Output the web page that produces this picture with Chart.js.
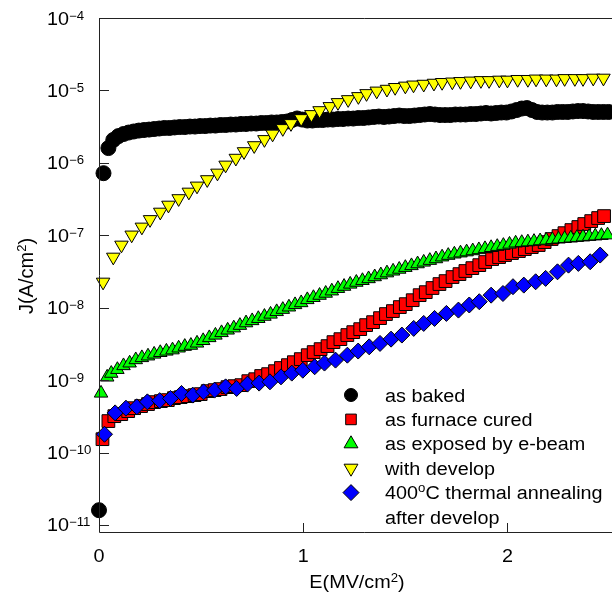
<!DOCTYPE html>
<html>
<head>
<meta charset="utf-8">
<script src="https://cdn.jsdelivr.net/npm/chart.js@4.4.1/dist/chart.umd.min.js"></script>
<style>
  html, body { margin: 0; padding: 0; overflow: hidden; background: #fff; }
  canvas { display: block; }
</style>
</head>
<body>
<canvas id="jeChart" width="640" height="599"></canvas>
<script>
// J-E leakage curves of the film after each process step

const seriesLabels = ['as baked', 'as furnace cured', 'as exposed by e-beam', 'with develop', '400°C thermal annealing\nafter develop'];

// as baked
const bakedE = [
  0, 0.022, 0.046, 0.07, 0.095, 0.12, 0.145, 0.17, 0.195, 0.22,
  0.245, 0.27, 0.295, 0.32, 0.345, 0.37, 0.395, 0.42, 0.445, 0.47,
  0.495, 0.52, 0.545, 0.57, 0.595, 0.62, 0.645, 0.67, 0.695, 0.72,
  0.745, 0.77, 0.795, 0.82, 0.845, 0.87, 0.895, 0.92, 0.945, 0.97,
  0.995, 1.02, 1.045, 1.07, 1.095, 1.12, 1.145, 1.17, 1.195, 1.22,
  1.245, 1.27, 1.295, 1.32, 1.345, 1.37, 1.395, 1.42, 1.445, 1.47,
  1.495, 1.52, 1.545, 1.57, 1.595, 1.62, 1.645, 1.67, 1.695, 1.72,
  1.745, 1.77, 1.795, 1.82, 1.845, 1.87, 1.895, 1.92, 1.945, 1.97,
  1.995, 2.02, 2.045, 2.07, 2.095, 2.12, 2.145, 2.17, 2.195, 2.22,
  2.245, 2.27, 2.295, 2.32, 2.345, 2.37, 2.395, 2.42, 2.445, 2.47,
  2.495
];
const bakedJ = [
  1.6e-11, 7.2e-7, 1.6e-6, 2.07e-6, 2.34e-6, 2.50e-6, 2.62e-6, 2.71e-6, 2.79e-6, 2.84e-6,
  2.88e-6, 2.93e-6, 2.98e-6, 3.03e-6, 3.03e-6, 3.08e-6, 3.12e-6, 3.12e-6, 3.17e-6, 3.17e-6,
  3.22e-6, 3.22e-6, 3.27e-6, 3.27e-6, 3.33e-6, 3.33e-6, 3.38e-6, 3.38e-6, 3.44e-6, 3.44e-6,
  3.49e-6, 3.49e-6, 3.55e-6, 3.55e-6, 3.61e-6, 3.61e-6, 3.66e-6, 3.72e-6, 3.90e-6, 4.10e-6,
  3.96e-6, 3.84e-6, 3.84e-6, 3.90e-6, 3.90e-6, 3.96e-6, 3.96e-6, 4.03e-6, 4.03e-6, 4.09e-6,
  4.09e-6, 4.16e-6, 4.16e-6, 4.23e-6, 4.30e-6, 4.36e-6, 4.30e-6, 4.36e-6, 4.43e-6, 4.50e-6,
  4.43e-6, 4.43e-6, 4.50e-6, 4.57e-6, 4.65e-6, 4.72e-6, 4.65e-6, 4.57e-6, 4.57e-6, 4.57e-6,
  4.65e-6, 4.65e-6, 4.65e-6, 4.72e-6, 4.72e-6, 4.80e-6, 4.88e-6, 4.80e-6, 4.88e-6, 4.95e-6,
  4.95e-6, 5.12e-6, 5.36e-6, 5.62e-6, 5.71e-6, 5.36e-6, 5.04e-6, 4.95e-6, 4.95e-6, 4.95e-6,
  5.04e-6, 5.04e-6, 5.04e-6, 5.12e-6, 5.19e-6, 5.19e-6, 5.12e-6, 5.04e-6, 5.04e-6, 5.04e-6,
  5.04e-6
];

// as furnace cured
const curedE = [
  0.017, 0.046, 0.075, 0.109, 0.143, 0.172, 0.206, 0.240, 0.269, 0.303,
  0.337, 0.367, 0.400, 0.434, 0.468, 0.498, 0.532, 0.566, 0.595, 0.629,
  0.663, 0.697, 0.731, 0.765, 0.794, 0.828, 0.862, 0.891, 0.925, 0.954,
  0.988, 1.022, 1.051, 1.085, 1.119, 1.148, 1.182, 1.216, 1.245, 1.279,
  1.308, 1.342, 1.376, 1.405, 1.439, 1.473, 1.502, 1.536, 1.570, 1.600,
  1.633, 1.667, 1.697, 1.731, 1.765, 1.794, 1.828, 1.862, 1.891, 1.925,
  1.959, 1.988, 2.022, 2.056, 2.085, 2.119, 2.153, 2.182, 2.216, 2.250,
  2.279, 2.313, 2.347, 2.376, 2.410, 2.444, 2.473
];
const curedJ = [
  1.53e-10, 2.72e-10, 3.18e-10, 3.39e-10, 3.73e-10, 4.10e-10, 4.38e-10, 4.67e-10, 4.97e-10, 5.13e-10,
  5.30e-10, 5.64e-10, 5.82e-10, 6.01e-10, 6.21e-10, 6.41e-10, 7.05e-10, 7.28e-10, 7.52e-10, 8.00e-10,
  8.26e-10, 8.53e-10, 9.68e-10, 1.03e-9, 1.14e-9, 1.21e-9, 1.33e-9, 1.47e-9, 1.61e-9, 1.77e-9,
  1.95e-9, 2.21e-9, 2.44e-9, 2.68e-9, 2.95e-9, 3.35e-9, 3.68e-9, 4.19e-9, 4.60e-9, 5.06e-9,
  5.75e-9, 6.32e-9, 7.18e-9, 8.17e-9, 8.98e-9, 1.02e-8, 1.12e-8, 1.27e-8, 1.49e-8, 1.64e-8,
  1.87e-8, 2.12e-8, 2.33e-8, 2.65e-8, 2.91e-8, 3.21e-8, 3.52e-8, 3.87e-8, 4.27e-8, 4.69e-8,
  5.00e-8, 5.33e-8, 5.68e-8, 6.05e-8, 6.44e-8, 6.87e-8, 7.33e-8, 8.05e-8, 8.87e-8, 9.75e-8,
  1.07e-7, 1.18e-7, 1.30e-7, 1.43e-7, 1.57e-7, 1.73e-7, 1.84e-7
];

// as exposed by e-beam
const ebeamE = [
  0.01, 0.04, 0.06, 0.09, 0.12, 0.15, 0.18, 0.21, 0.24, 0.27,
  0.30, 0.33, 0.36, 0.39, 0.42, 0.45, 0.48, 0.51, 0.54, 0.57,
  0.60, 0.63, 0.66, 0.69, 0.72, 0.75, 0.78, 0.81, 0.84, 0.87,
  0.90, 0.93, 0.96, 0.99, 1.02, 1.05, 1.08, 1.11, 1.14, 1.17,
  1.20, 1.23, 1.26, 1.29, 1.32, 1.35, 1.38, 1.41, 1.44, 1.47,
  1.50, 1.53, 1.56, 1.59, 1.62, 1.65, 1.68, 1.71, 1.74, 1.77,
  1.80, 1.83, 1.86, 1.89, 1.92, 1.95, 1.98, 2.01, 2.04, 2.07,
  2.10, 2.13, 2.16, 2.19, 2.22, 2.25, 2.28, 2.31, 2.34, 2.37,
  2.40, 2.43, 2.46, 2.49
];
const ebeamJ = [
  6.6e-10, 1.10e-9, 1.24e-9, 1.40e-9, 1.58e-9, 1.72e-9, 1.91e-9, 2.04e-9, 2.15e-9, 2.28e-9,
  2.40e-9, 2.51e-9, 2.61e-9, 2.77e-9, 2.92e-9, 3.02e-9, 3.24e-9, 3.51e-9, 3.85e-9, 4.17e-9,
  4.52e-9, 4.90e-9, 5.25e-9, 5.69e-9, 6.17e-9, 6.61e-9, 7.08e-9, 7.59e-9, 8.13e-9, 8.81e-9,
  9.46e-9, 1.02e-8, 1.10e-8, 1.17e-8, 1.29e-8, 1.38e-8, 1.48e-8, 1.58e-8, 1.70e-8, 1.84e-8,
  1.97e-8, 2.11e-8, 2.24e-8, 2.37e-8, 2.51e-8, 2.67e-8, 2.84e-8, 3.02e-8, 3.20e-8, 3.39e-8,
  3.59e-8, 3.80e-8, 4.03e-8, 4.25e-8, 4.49e-8, 4.73e-8, 5.01e-8, 5.27e-8, 5.50e-8, 5.69e-8,
  5.89e-8, 6.10e-8, 6.31e-8, 6.53e-8, 6.76e-8, 7.00e-8, 7.24e-8, 7.52e-8, 7.80e-8, 7.94e-8,
  8.09e-8, 8.22e-8, 8.38e-8, 8.53e-8, 8.69e-8, 8.85e-8, 9.00e-8, 9.14e-8, 9.31e-8, 9.46e-8,
  9.62e-8, 9.77e-8, 9.93e-8, 1.01e-7
];

// with develop
const developE = [
  0.02, 0.07, 0.11, 0.16, 0.21, 0.25, 0.30, 0.34, 0.39, 0.44,
  0.48, 0.53, 0.58, 0.62, 0.67, 0.71, 0.76, 0.81, 0.85, 0.90,
  0.94, 0.99, 1.04, 1.08, 1.13, 1.17, 1.22, 1.27, 1.31, 1.36,
  1.41, 1.45, 1.50, 1.54, 1.59, 1.64, 1.68, 1.73, 1.77, 1.82,
  1.87, 1.91, 1.96, 2.00, 2.05, 2.10, 2.14, 2.19, 2.24, 2.28,
  2.33, 2.37, 2.42, 2.47
];
const developJ = [
  2.26e-8, 5.0e-8, 7.33e-8, 1.01e-7, 1.30e-7, 1.65e-7, 2.09e-7, 2.61e-7, 3.21e-7, 3.95e-7,
  4.79e-7, 5.87e-7, 7.23e-7, 9.33e-7, 1.16e-6, 1.43e-6, 1.73e-6, 2.10e-6, 2.50e-6, 2.98e-6,
  3.49e-6, 4.09e-6, 4.65e-6, 5.27e-6, 6.00e-6, 6.81e-6, 7.48e-6, 8.24e-6, 9.06e-6, 9.82e-6,
  1.04e-5, 1.10e-5, 1.15e-5, 1.19e-5, 1.22e-5, 1.26e-5, 1.29e-5, 1.31e-5, 1.33e-5, 1.35e-5,
  1.37e-5, 1.37e-5, 1.39e-5, 1.39e-5, 1.42e-5, 1.42e-5, 1.44e-5, 1.44e-5, 1.44e-5, 1.46e-5,
  1.46e-5, 1.46e-5, 1.48e-5, 1.48e-5
];

// 400°C thermal annealing after develop
const annealE = [
  0.027, 0.079, 0.132, 0.185, 0.237, 0.297, 0.350, 0.404, 0.459, 0.512,
  0.566, 0.620, 0.674, 0.727, 0.784, 0.837, 0.891, 0.944, 0.998, 1.056,
  1.104, 1.158, 1.216, 1.269, 1.323, 1.376, 1.430, 1.483, 1.541, 1.590,
  1.643, 1.701, 1.760, 1.813, 1.862, 1.920, 1.978, 2.027, 2.080, 2.138,
  2.187, 2.245, 2.299, 2.347, 2.405, 2.454
];
const annealJ = [
  1.79e-10, 3.53e-10, 4.10e-10, 4.28e-10, 5.01e-10, 5.21e-10, 5.58e-10, 6.55e-10, 6.21e-10, 6.89e-10,
  7.28e-10, 8.07e-10, 7.67e-10, 8.81e-10, 9.10e-10, 9.48e-10, 1.11e-9, 1.25e-9, 1.37e-9, 1.53e-9,
  1.72e-9, 1.89e-9, 2.21e-9, 2.52e-9, 2.88e-9, 3.21e-9, 3.68e-9, 4.19e-9, 5.18e-9, 6.07e-9,
  7.11e-9, 8.34e-9, 9.27e-9, 1.09e-8, 1.21e-8, 1.49e-8, 1.57e-8, 1.95e-8, 2.05e-8, 2.28e-8,
  2.54e-8, 3.13e-8, 3.87e-8, 4.09e-8, 4.31e-8, 5.33e-8
];

const xTicks = [0, 1, 2];
const yTicks = [1e-11, 1e-10, 1e-9, 1e-8, 1e-7, 1e-6, 1e-5, 1e-4];
const xTitle = 'E(MV/cm²)';
const yTitle = 'J(A/cm²)';

const seriesE = [bakedE, curedE, ebeamE, developE, annealE];
const seriesJ = [bakedJ, curedJ, ebeamJ, developJ, annealJ];

// marker look per series (plot size, legend size)
const markers = [
  { style: 'circle',   r: 7.5, lr: 6.5, rot: 0,   fill: '#000000' },
  { style: 'rect',     r: 9,   lr: 7.5, rot: 0,   fill: '#ff0000' },
  { style: 'triangle', r: 7.8, lr: 8,   rot: 0,   fill: '#00ff00' },
  { style: 'triangle', r: 7.8, lr: 8,   rot: 180, fill: '#ffff00' },
  { style: 'rectRot',  r: 8,   lr: 8,   rot: 0,   fill: '#0000ff' }
];

const FONT = '"Liberation Sans", Arial, sans-serif';
const TEXT_SX = 1.1;

function toPoints(xs, ys) {
  return xs.map((x, i) => ({ x: x, y: ys[i] }));
}

// split text into normal / superscript runs (² and ° are raised)
function splitRich(str) {
  const segs = [];
  for (const ch of str) {
    const sup = ch === '²' ? '2' : ch === '°' ? 'o' : null;
    if (sup) segs.push({ t: sup, sup: true });
    else if (segs.length && !segs[segs.length - 1].sup) segs[segs.length - 1].t += ch;
    else segs.push({ t: ch, sup: false });
  }
  return segs;
}

function drawRich(ctx, text, x, y, o) {
  o = o || {};
  const size = o.size || 18, supSize = o.supSize || 12, raise = o.raise || 6.5;
  const sx = o.sx || TEXT_SX;
  const segs = typeof text === 'string' ? splitRich(text) : text;
  let total = 0;
  segs.forEach(s => {
    ctx.font = (s.sup ? supSize : size) + 'px ' + FONT;
    s.w = ctx.measureText(s.t).width * sx;
    total += s.w;
  });
  let cx = o.align === 'center' ? x - total / 2 : x;
  segs.forEach(s => {
    ctx.font = (s.sup ? supSize : size) + 'px ' + FONT;
    ctx.save();
    ctx.translate(cx, s.sup ? y - raise : y);
    ctx.scale(sx, 1);
    ctx.fillText(s.t, 0, 0);
    ctx.restore();
    cx += s.w;
  });
}

// axes frame, inward ticks, labels and the in-plot legend
const framePlugin = {
  id: 'frame',
  afterDraw(chart) {
    const { ctx, chartArea: a, scales } = chart;
    const xs = scales.x, ys = scales.y;
    ctx.save();
    ctx.strokeStyle = '#222';
    ctx.lineWidth = 1;
    ctx.beginPath();
    ctx.moveTo(a.left + 0.5, a.top + 0.5);
    ctx.lineTo(a.left + 0.5, a.bottom + 0.5);
    ctx.lineTo(a.right, a.bottom + 0.5);
    ctx.moveTo(a.left + 0.5, a.top + 0.5);
    ctx.lineTo(a.right, a.top + 0.5);
    yTicks.forEach(v => {
      const py = Math.round(ys.getPixelForValue(v)) + 0.5;
      ctx.moveTo(a.left, py);
      ctx.lineTo(a.left + 10, py);
    });
    xTicks.forEach(v => {
      const px = Math.round(xs.getPixelForValue(v)) + 0.5;
      ctx.moveTo(px, a.bottom);
      ctx.lineTo(px, a.bottom - 9);
    });
    ctx.stroke();

    ctx.fillStyle = '#000';
    ctx.textAlign = 'left';
    ctx.textBaseline = 'alphabetic';

    yTicks.forEach(v => {
      const py = ys.getPixelForValue(v);
      const exp = Math.round(Math.log10(v));
      drawRich(ctx, [{ t: '10', sup: false }, { t: (exp < 0 ? '\u2212' : '') + Math.abs(exp), sup: true }],
        47, py + 6.5, { raise: 5 });
    });
    xTicks.forEach(v => {
      drawRich(ctx, String(v), xs.getPixelForValue(v), 561.5, { align: 'center' });
    });

    drawRich(ctx, xTitle, 357, 588, { align: 'center' });
    ctx.save();
    ctx.translate(33, 276);
    ctx.rotate(-Math.PI / 2);
    drawRich(ctx, yTitle, 0, 0, { align: 'center', size: 20, supSize: 13, raise: 7, sx: 1 });
    ctx.restore();

    // legend
    const lx = 351, tx = 385, step = 24.4;
    let ly = 395;
    seriesLabels.forEach((label, i) => {
      const m = markers[i];
      ctx.fillStyle = m.fill;
      ctx.strokeStyle = '#000';
      ctx.lineWidth = 1;
      Chart.helpers.drawPoint(ctx, { pointStyle: m.style, radius: m.lr, rotation: m.rot, borderWidth: 1 }, lx, ly);
      ctx.fillStyle = '#000';
      label.split('\n').forEach(line => {
        drawRich(ctx, line, tx, ly + 6.5, { raise: 7 });
        ly += step;
      });
    });
    ctx.restore();
  }
};

new Chart(document.getElementById('jeChart'), {
  type: 'scatter',
  data: {
    datasets: seriesLabels.map((label, i) => ({
      label: label,
      data: toPoints(seriesE[i], seriesJ[i]),
      pointStyle: markers[i].style,
      pointRadius: markers[i].r,
      pointRotation: markers[i].rot,
      pointBackgroundColor: markers[i].fill,
      pointBorderColor: '#000',
      pointBorderWidth: 1,
      showLine: false,
      clip: false,
      order: seriesLabels.length - i
    }))
  },
  options: {
    responsive: false,
    animation: false,
    events: [],
    layout: { padding: { top: 18, right: 5, left: 0, bottom: 0 } },
    plugins: { legend: { display: false }, tooltip: { enabled: false } },
    scales: {
      x: {
        type: 'linear', min: 0, max: 2.6,
        grid: { display: false }, border: { display: false }, ticks: { display: false },
        afterFit(s) { s.height = 67; }
      },
      y: {
        type: 'logarithmic', min: 8e-12, max: 1e-4,
        grid: { display: false }, border: { display: false }, ticks: { display: false },
        afterFit(s) { s.width = 99; }
      }
    }
  },
  plugins: [framePlugin]
});
</script>
</body>
</html>
